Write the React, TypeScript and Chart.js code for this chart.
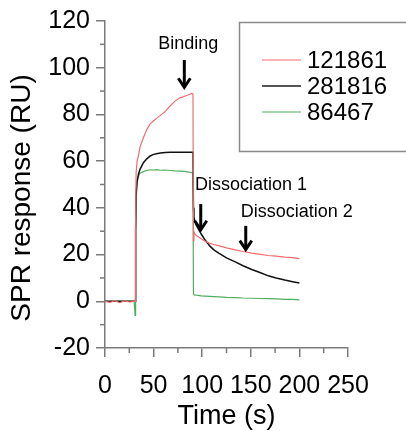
import React, { useEffect, useRef } from 'react';
import { Chart, registerables } from 'chart.js';

Chart.register(...registerables);

// ---- data (time in s, response in RU) ----
const time = [0, 5, 10, 15, 20, 25, 30, 31, 31.5, 32, 33, 34.5, 36, 39.5, 43, 46.5, 50, 53, 57, 62, 67, 72, 77, 82, 86, 89.5, 90.5, 91, 91.5, 92.5, 94, 96, 99, 103, 108, 112, 117, 125, 134, 142, 151, 160, 168, 176, 185, 193, 200];
const resp121861 = [0, -0.5, 0.3, -0.6, 0.2, -0.3, 0, 0, 35, 55, 60, 62.5, 66, 70, 73.5, 76, 77.3, 78.3, 79.6, 81.3, 83.6, 85.7, 87.1, 87.8, 88.4, 89, 88.8, 26, 29.8, 28.8, 28.2, 27.6, 26.8, 25.7, 24.8, 24.3, 23.8, 22.9, 22, 21.3, 20.6, 20.1, 19.6, 19.3, 18.9, 18.7, 18.3];
const resp281816 = [0, 0, 0, 0, 0, 0, 0, 0, 30, 45, 51, 54.5, 56.5, 59.3, 61, 62.2, 62.9, 63.2, 63.5, 63.7, 63.8, 63.8, 63.8, 63.8, 63.8, 63.8, 63.8, 40, 36, 34, 32.5, 31, 28.8, 26.2, 23.6, 22, 20.6, 18.6, 16.9, 15.2, 13.6, 12.2, 10.9, 10, 9.1, 8.4, 7.8];
const resp86467 = [0, 0, 0, 0, 0, 0, 0, -6, 30, 48, 52, 53.5, 54.8, 55.5, 56, 56.3, 56.2, 56.4, 56.1, 56.2, 56, 55.8, 55.7, 55.6, 55.3, 55.1, 55, 3, 2.8, 2.7, 2.6, 2.5, 2.3, 2.2, 2.1, 2, 1.9, 1.7, 1.6, 1.4, 1.3, 1.2, 1.1, 1, 0.8, 0.8, 0.6];
const seriesNames = ['121861', '281816', '86467'];
const xTicks = [0, 50, 100, 150, 200, 250];
const yTicks = [-20, 0, 20, 40, 60, 80, 100, 120];
const xTitle = 'Time (s)';
const yTitle = 'SPR response (RU)';
// annotation label anchor (t, RU) and arrow (t, from RU, to RU)
const annotationTexts = ['Binding', 'Dissociation 1', 'Dissociation 2'];
const annotationAnchors = [[85.7, 107.8], [92.6, 47.7], [139.6, 35.9]];
const annotationArrows = [[81.6, 103.3, 91.2], [98.5, 41.6, 30.2], [144.8, 32.3, 21.7]];

const FONT = '"Liberation Sans", Arial, Helvetica, sans-serif';
const AXIS = '#7a7a7a';
const COLORS = ['#f26d6d', '#111111', '#4fae5e'];
const LEGEND_LINE = ['#f26d6d', '#555555', '#4fae5e'];
const WIDTHS = [1.2, 1.5, 1.2];

const decorPlugin = {
  id: 'decor',
  afterDraw(chart: any) {
    const { ctx, chartArea, scales } = chart;
    const xs = scales.x;
    const ys = scales.y;
    ctx.save();

    // minor ticks
    ctx.strokeStyle = AXIS;
    ctx.lineWidth = 1.5;
    for (let i = 0; i < yTicks.length - 1; i++) {
      const py = ys.getPixelForValue((yTicks[i] + yTicks[i + 1]) / 2);
      ctx.beginPath();
      ctx.moveTo(chartArea.left - 5, py);
      ctx.lineTo(chartArea.left, py);
      ctx.stroke();
    }
    for (let i = 0; i < xTicks.length - 1; i++) {
      const px = xs.getPixelForValue((xTicks[i] + xTicks[i + 1]) / 2);
      ctx.beginPath();
      ctx.moveTo(px, chartArea.bottom);
      ctx.lineTo(px, chartArea.bottom + 5);
      ctx.stroke();
    }

    // annotations
    ctx.fillStyle = '#000';
    ctx.strokeStyle = '#000';
    ctx.font = `18px ${FONT}`;
    ctx.textBaseline = 'alphabetic';
    annotationTexts.forEach((txt, i) => {
      const [tx, ty] = annotationAnchors[i];
      ctx.textAlign = i === 0 ? 'center' : 'left';
      ctx.fillText(txt, xs.getPixelForValue(tx), ys.getPixelForValue(ty));
      const [ax, a0, a1] = annotationArrows[i];
      const px = xs.getPixelForValue(ax);
      const p0 = ys.getPixelForValue(a0);
      const p1 = ys.getPixelForValue(a1);
      ctx.lineWidth = 3;
      ctx.lineJoin = 'miter';
      ctx.beginPath();
      ctx.moveTo(px, p0);
      ctx.lineTo(px, p1 - 2);
      ctx.stroke();
      ctx.beginPath();
      ctx.moveTo(px - 6, p1 - 10);
      ctx.lineTo(px, p1 - 1);
      ctx.lineTo(px + 6, p1 - 10);
      ctx.stroke();
    });

    // legend box
    const lx = chartArea.left + 134;
    const ly = chartArea.top + 1;
    ctx.strokeStyle = '#8a8a8a';
    ctx.lineWidth = 1.5;
    ctx.strokeRect(lx + 0.5, ly + 0.5, chart.width - lx + 20, 129);
    ctx.font = `24px ${FONT}`;
    ctx.textAlign = 'left';
    ctx.textBaseline = 'middle';
    chart.data.datasets.forEach((ds: any, i: number) => {
      const yy = ly + 38 + i * 26;
      ctx.strokeStyle = LEGEND_LINE[i];
      ctx.lineWidth = i === 1 ? 1.8 : 1.2;
      ctx.beginPath();
      ctx.moveTo(lx + 23, yy);
      ctx.lineTo(lx + 62, yy);
      ctx.stroke();
      ctx.fillStyle = '#000';
      ctx.fillText(ds.label, lx + 68, yy + 1);
    });

    // y axis title
    ctx.save();
    ctx.translate(chartArea.left - 83, chartArea.top + 177);
    ctx.rotate(-Math.PI / 2);
    ctx.font = `28px ${FONT}`;
    ctx.textAlign = 'center';
    ctx.textBaseline = 'middle';
    ctx.fillStyle = '#000';
    ctx.fillText(yTitle, 0, 0);
    ctx.restore();

    ctx.restore();
  },
};

export default function App() {
  const ref = useRef<HTMLCanvasElement>(null);
  useEffect(() => {
    if (!ref.current) return;
    const series = [resp121861, resp281816, resp86467];
    const chart = new Chart(ref.current, {
      type: 'line',
      data: {
        datasets: series.map((vals, i) => ({
          label: seriesNames[i],
          data: time.map((t, k) => ({ x: t, y: vals[k] })),
          borderColor: COLORS[i],
          borderWidth: WIDTHS[i],
          pointRadius: 0,
          tension: 0,
          fill: false,
        })),
      },
      options: {
        animation: false,
        responsive: false,
        layout: { padding: { top: 19, right: 58, left: 0, bottom: 0 } },
        plugins: { legend: { display: false }, tooltip: { enabled: false } },
        scales: {
          x: {
            type: 'linear',
            min: xTicks[0],
            max: xTicks[xTicks.length - 1],
            afterBuildTicks: (s: any) => { s.ticks = xTicks.map((v) => ({ value: v })); },
            afterFit: (s: any) => { s.height = 83; },
            grid: { drawOnChartArea: false, drawTicks: true, tickLength: 9, color: AXIS, lineWidth: 1.5 },
            border: { color: AXIS, width: 1.5 },
            ticks: { color: '#000', font: { family: FONT, size: 25 }, padding: 14, maxRotation: 0, autoSkip: false },
            title: { display: true, text: xTitle, color: '#000', font: { family: FONT, size: 27, lineHeight: 1 }, padding: { top: 0, bottom: 1 } },
          },
          y: {
            type: 'linear',
            min: yTicks[0],
            max: yTicks[yTicks.length - 1],
            afterBuildTicks: (s: any) => { s.ticks = yTicks.map((v) => ({ value: v })); },
            afterFit: (s: any) => { s.width = 105; },
            grid: { drawOnChartArea: false, drawTicks: true, tickLength: 9, color: AXIS, lineWidth: 1.5 },
            border: { color: AXIS, width: 1.5 },
            ticks: { color: '#000', font: { family: FONT, size: 25 }, padding: 6, autoSkip: false },
          },
        },
      },
      plugins: [decorPlugin],
    } as any);
    return () => chart.destroy();
  }, []);
  return (
    <div style={{ position: 'fixed', left: 0, top: 0, width: 406, height: 431, background: '#fff' }}>
      <canvas ref={ref} width={406} height={431} style={{ display: 'block' }} />
    </div>
  );
}
